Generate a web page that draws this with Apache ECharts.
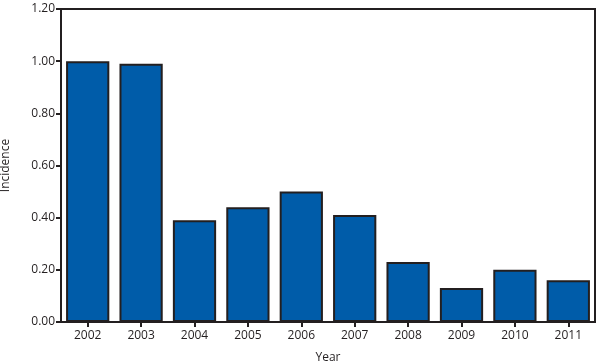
<!DOCTYPE html>
<html><head><meta charset="utf-8">
<script src="https://cdn.jsdelivr.net/npm/echarts@6/dist/echarts.min.js"></script>
<style>html,body{margin:0;padding:0;background:#fff}#c{width:612px;height:364px}</style>
</head><body><div id="c"></div>
<script>
const years = ['2002','2003','2004','2005','2006','2007','2008','2009','2010','2011'];
const incidence = [1.00, 0.99, 0.39, 0.44, 0.50, 0.41, 0.23, 0.13, 0.20, 0.16];
const yTicks = [0, 0.2, 0.4, 0.6, 0.8, 1.0, 1.2];

const chart = echarts.init(document.getElementById('c'), null, {renderer:'canvas'});
const font = '"Open Sans", "Noto Sans", sans-serif';
chart.setOption({
  animation: false,
  grid: {left: 61, right: 17, top: 9, bottom: 42, show: true, borderColor: '#231f20', borderWidth: 2,
    backgroundColor: 'transparent', containLabel: false, outerBoundsMode: 'none'},
  xAxis: {
    type: 'category', data: years,
    name: 'Year', nameLocation: 'middle', nameGap: 30,
    nameTextStyle: {fontFamily: font, fontSize: 12, color: '#231f20'},
    axisLine: {show: true, lineStyle: {color: '#231f20', width: 2}},
    axisTick: {show: true, alignWithLabel: true, length: 5, lineStyle: {color: '#231f20', width: 2}},
    axisLabel: {fontFamily: font, fontSize: 12, color: '#231f20', margin: 8}
  },
  yAxis: {
    type: 'value', min: 0, max: 1.2, interval: 0.2,
    name: 'Incidence', nameLocation: 'middle', nameGap: 49, nameRotate: 90,
    nameTextStyle: {fontFamily: font, fontSize: 12, color: '#231f20'},
    axisLine: {show: true, lineStyle: {color: '#231f20', width: 2}},
    axisTick: {show: true, length: 5, lineStyle: {color: '#231f20', width: 2}},
    splitLine: {show: false},
    axisLabel: {fontFamily: font, fontSize: 12, color: '#231f20', margin: 6,
      formatter: v => v.toFixed(2)}
  },
  series: [{
    type: 'bar', data: incidence, barCategoryGap: '19%',
    itemStyle: {color: '#005ca9', borderColor: '#231f20', borderWidth: 2}
  }]
});
</script></body></html>
